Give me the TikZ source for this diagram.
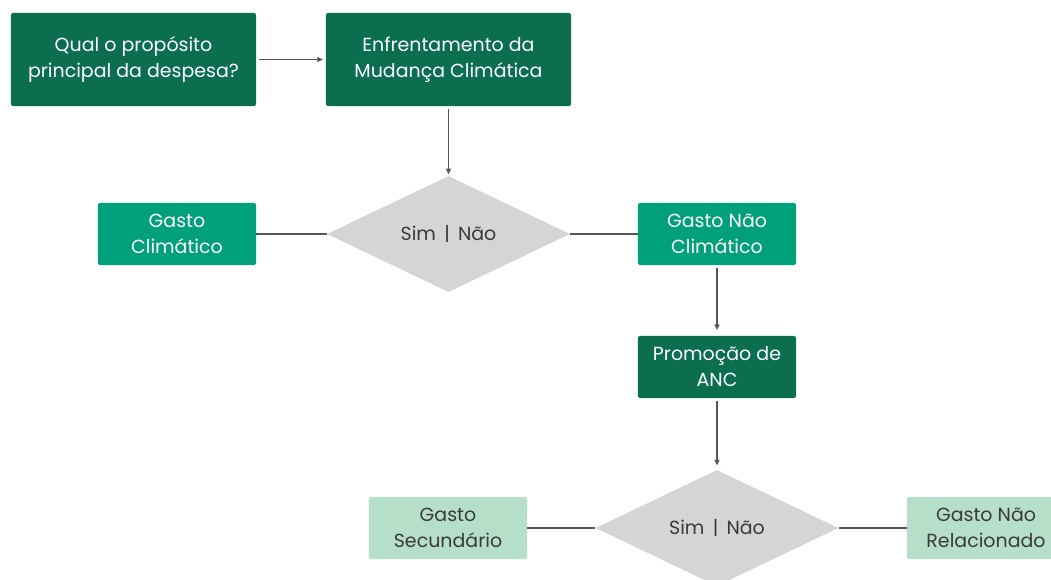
\documentclass[tikz,border=0pt]{standalone}
\usepackage{fontspec}
\setmainfont{Poppins}
\usepackage{tikz}
\usetikzlibrary{positioning,calc,arrows.meta,shapes.geometric}
\tikzset{>={Triangle[length=4pt,width=3.5pt]}}

\definecolor{darkgreen}{HTML}{0A6E4F}
\definecolor{midgreen}{HTML}{00A07A}
\definecolor{palegreen}{HTML}{B5DFC9}
\definecolor{decgray}{HTML}{D6D5D3}
\definecolor{linegray}{HTML}{555555}
\definecolor{textgray}{HTML}{3A3A3A}

\begin{document}
\begin{tikzpicture}[x=0.025cm,y=-0.025cm,
  font=\fontsize{13.5}{18.5}\selectfont,
  box/.style={rectangle,rounded corners=1.5pt,align=center,inner sep=0pt},
  bigbox/.style={box,fill=darkgreen,text=white,minimum width=6.125cm,minimum height=2.325cm},
  darkbox/.style={box,fill=darkgreen,text=white,minimum width=3.95cm,minimum height=1.55cm},
  midbox/.style={box,fill=midgreen,text=white,minimum width=3.95cm,minimum height=1.55cm},
  palebox/.style={box,fill=palegreen,text=textgray,minimum width=3.95cm,minimum height=1.55cm},
  decision/.style={diamond,fill=decgray,text=textgray,inner sep=0pt,
    minimum width=6.075cm,minimum height=2.9cm},
  conn/.style={draw=linegray,line width=0.8pt}]

\useasboundingbox (0,0) rectangle (1051,579);
\clip (0,0) rectangle (1051,579);

% Top row
\node[bigbox] (q) at (133.5,59.5) {Qual o propósito\\principal da despesa?};
\node[bigbox] (enf) at (448.5,59.5) {Enfrentamento da\\Mudança Climática};

% First decision
\node[decision] (dec1) at (448.5,234) {Sim \,|\, Não};
\node[midbox] (climat) at (177,234) {Gasto\\Climático};
\node[midbox] (naoclim) at (717,234) {Gasto Não\\Climático};

% ANC
\node[darkbox] (anc) at (717,367) {Promoção de\\ANC};

% Second decision
\node[decision] (dec2) at (717,528) {Sim \,|\, Não};
\node[palebox] (secund) at (448,528) {Gasto\\Secundário};
\node[palebox] (naorel) at (986,528) {Gasto Não\\Relacionado};

% Connectors
\draw[conn,->,shorten <=2pt,shorten >=2pt] (q) -- (enf);
\draw[conn,->,shorten <=2pt,shorten >=1pt] (enf) -- (dec1);
\draw[conn] (dec1) -- (climat);
\draw[conn] (dec1) -- (naoclim);
\draw[conn,->,shorten <=2pt,shorten >=4pt] (naoclim) -- (anc);
\draw[conn,->,shorten <=2pt,shorten >=3pt] (anc) -- (dec2);
\draw[conn] (dec2) -- (secund);
\draw[conn] (dec2) -- (naorel);
\end{tikzpicture}
\end{document}
